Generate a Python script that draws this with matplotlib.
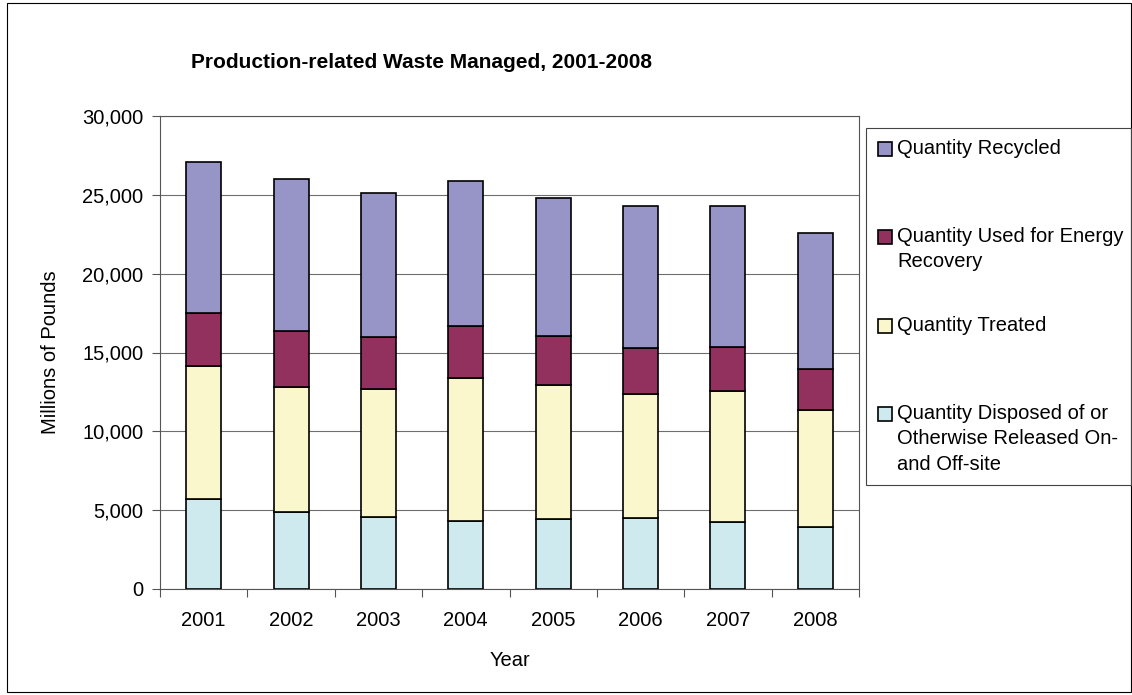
import matplotlib
matplotlib.use('Agg')
import matplotlib.pyplot as plt
from matplotlib.patches import Rectangle
import numpy as np

plt.rcParams['font.family'] = ['Liberation Sans', 'DejaVu Sans']

years = ['2001', '2002', '2003', '2004', '2005', '2006', '2007', '2008']
# millions of pounds, stacked from the bottom up
disposed = [5710, 4880, 4560, 4330, 4440, 4480, 4250, 3910]
treated = [8410, 7910, 8140, 9030, 8490, 7860, 8280, 7440]
energy = [3380, 3550, 3280, 3290, 3090, 2940, 2810, 2620]
recycled = [9570, 9670, 9130, 9220, 8810, 9020, 8980, 8600]

series = [disposed, treated, energy, recycled]
colors = ['#CEEAEF', '#FAF7CC', '#92305E', '#9794C8']
labels = ['Quantity Disposed of or\nOtherwise Released On-\nand Off-site',
          'Quantity Treated',
          'Quantity Used for Energy\nRecovery',
          'Quantity Recycled']

FS = 14.5
W, H = 1132, 695
fig = plt.figure(figsize=(W / 100, H / 100), dpi=100)

def fx(x):
    return x / W

def fy(y):
    return 1 - y / H

# outer chart border
fig.patches.append(Rectangle((fx(7), fy(692)), fx(1131) - fx(7), fy(3) - fy(692), transform=fig.transFigure,
                             fill=False, edgecolor='black', linewidth=0.8))

ax = fig.add_axes([fx(160), fy(589), fx(859) - fx(160), fy(116) - fy(589)])

x = np.arange(len(years))
bottom = np.zeros(len(years))
for vals, c in zip(series, colors):
    ax.bar(x, vals, width=0.4, bottom=bottom, color=c, edgecolor='black', linewidth=1.2, zorder=3)
    bottom += np.array(vals)

ax.set_ylim(0, 30000)
ax.set_xlim(-0.5, len(years) - 0.5)
ax.set_yticks(np.arange(0, 30001, 5000))
ax.set_yticklabels(['{:,}'.format(v) for v in range(0, 30001, 5000)], fontsize=FS)
ax.set_xticks(np.arange(-0.5, len(years), 1.0))
ax.set_xticklabels([])
ax.set_xticks(x, minor=True)
ax.set_xticklabels(years, minor=True, fontsize=FS)
ax.tick_params(axis='x', which='minor', length=0, pad=16)
ax.tick_params(axis='x', which='major', length=6, direction='out', color='#555555')
ax.tick_params(axis='y', length=6, direction='out', color='#555555', pad=6)
ax.yaxis.grid(True, color='#6e6e6e', linewidth=0.8, zorder=0)
ax.set_axisbelow(True)
for s in ax.spines.values():
    s.set_color('#555555')
    s.set_linewidth(0.8)

ax.set_ylabel('Millions of Pounds', fontsize=FS, labelpad=16)
ax.set_xlabel('Year', fontsize=FS, labelpad=15)

fig.text(fx(191), fy(62), 'Production-related Waste Managed, 2001-2008', fontsize=15,
         fontweight='bold', va='center', ha='left')

# legend drawn by hand so the swatches line up with the first line of each label
fig.patches.append(Rectangle((fx(866), fy(485)), fx(1131) - fx(866), fy(128) - fy(485),
                             transform=fig.transFigure, fill=False, edgecolor='#444444', linewidth=0.8))
entry_y = [149, 237, 326, 414]
for yy, c, lab in zip(entry_y, colors[::-1], labels[::-1]):
    fig.patches.append(Rectangle((fx(878), fy(yy + 7)), 14 / W, 14 / H, transform=fig.transFigure,
                                 facecolor=c, edgecolor='black', linewidth=1.2))
    fig.text(fx(897), fy(yy - 10), lab, fontsize=FS, va='top', ha='left', linespacing=1.42)

fig.savefig('out.png', dpi=100)
